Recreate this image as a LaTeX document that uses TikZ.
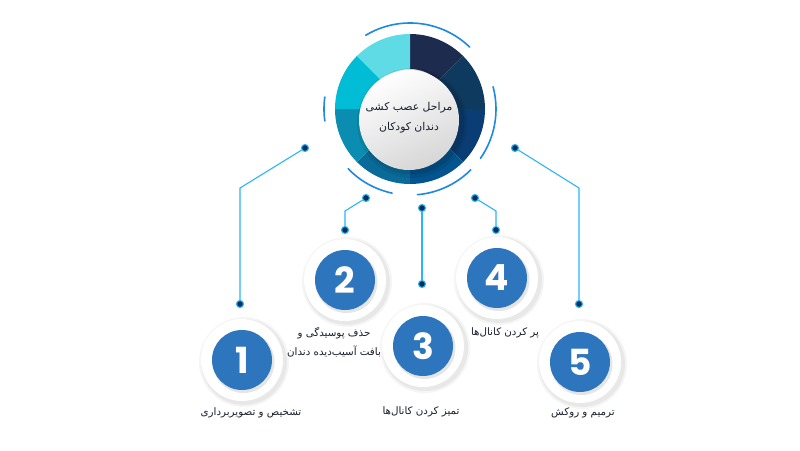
\documentclass[tikz,border=0pt]{standalone}
\usepackage{fontspec}
\newfontfamily\fa[Script=Arabic]{DejaVu Sans}
\newfontfamily\numfont{Poppins}
\TeXXeTstate=1
\definecolor{seg1}{HTML}{1D2B4F}
\definecolor{seg2}{HTML}{0F3A5F}
\definecolor{seg3}{HTML}{0A3D73}
\definecolor{seg4}{HTML}{04548F}
\definecolor{seg5}{HTML}{0A6B9A}
\definecolor{seg6}{HTML}{0A8DB0}
\definecolor{seg7}{HTML}{00BCD4}
\definecolor{seg8}{HTML}{5FDBE6}
\definecolor{arcblue}{HTML}{1E88E5}
\definecolor{linecyan}{HTML}{29B6F6}
\definecolor{dotnavy}{HTML}{0D2D5A}
\definecolor{numblue}{HTML}{2D76BE}
\definecolor{txt}{HTML}{1A1F2E}
\begin{document}
\begin{tikzpicture}[x=1pt,y=-1pt,
  halo/.style={circle, minimum size=82, inner sep=0, fill=white},
  numdisk/.style={circle, minimum size=60, inner sep=0, fill=numblue, text=white,
    font=\numfont\bfseries\fontsize{36}{36}\selectfont},
  dotnode/.style={circle, minimum size=7, inner sep=0, fill=dotnavy, draw=linecyan, line width=1.1},
  conn/.style={draw=linecyan, line width=1.1},
  lbl/.style={font=\fa\fontsize{10.3}{19}\selectfont, text=txt, align=center, inner sep=0},
  ring/.style={draw=arcblue, line width=1.6, line cap=round}]
\useasboundingbox (0,0) rectangle (800,450);
\fill[white] (0,0) rectangle (800,450);

% ---- central donut ----
\coordinate (ctr) at (410,109);
\begin{scope}[shift={(410,109)}, x=1pt, y=1pt]
  \foreach \a/\c [evaluate=\a as \b using \a-45] in {90/seg1,45/seg2,0/seg3,-45/seg4,-90/seg5,-135/seg6,-180/seg7,-225/seg8} {
    \fill[\c] (\a:75) arc[start angle=\a, end angle=\b, radius=75] -- (\b:40) arc[start angle=\b, end angle=\a, radius=40] -- cycle;
  }
  \draw[ring] (121:86) arc[start angle=121, end angle=46, radius=86];
  \draw[ring] (15:86) arc[start angle=15, end angle=-35, radius=86];
  \draw[ring] (172:86) arc[start angle=172, end angle=188, radius=86];
  \draw[ring] (224:86) arc[start angle=224, end angle=258, radius=86];
  \draw[ring] (275:86) arc[start angle=275, end angle=315, radius=86];
  % inner white disc with shadow
  \fill[black, opacity=0.07] (2,-14) circle (55);
  \fill[black, opacity=0.09] (2,-13) circle (52.5);
  \shade[top color=white, bottom color=black!16, shading angle=25] (-1,-11) circle (50);
\end{scope}
\node[font=\fa\fontsize{10.8}{20}\selectfont, text=txt, align=center] (title) at (409,118)
  {\beginR مراحل عصب کشی\endR\\\beginR دندان کودکان\endR};

% ---- numbered circles ----
\foreach \n/\x/\y in {1/242/360, 2/345/280, 3/423/346, 4/497/278, 5/580/362} {
  \fill[black, opacity=0.04] (\x+2,\y+2) circle (45);
  \fill[black, opacity=0.05] (\x+2,\y+2) circle (43);
  \node[halo] (h\n) at (\x,\y) {};
  \fill[black, opacity=0.10] (\x+1.5,\y+2) circle (31);
  \node[numdisk] (n\n) at (\x,\y) {\n};
}

% ---- connectors ----
\coordinate (k1) at (240,188);
\coordinate (k2) at (345,211);
\coordinate (k4) at (496,211);
\coordinate (k5) at (579,188);
\node[dotnode] (d1a) at (305,148) {};
\node[dotnode] (d1b) at (240,304) {};
\node[dotnode] (d2a) at (366,198) {};
\node[dotnode] (d2b) at (345,230) {};
\node[dotnode] (d3a) at (422,208) {};
\node[dotnode] (d3b) at (422,284) {};
\node[dotnode] (d4a) at (475,198) {};
\node[dotnode] (d4b) at (496,230) {};
\node[dotnode] (d5a) at (515,148) {};
\node[dotnode] (d5b) at (579,304) {};
\draw[conn] (d1a) -- (k1) -- (d1b);
\draw[conn] (d2a) -- (k2) -- (d2b);
\draw[conn] (d3a) -- (d3b);
\draw[conn] (d4a) -- (k4) -- (d4b);
\draw[conn] (d5a) -- (k5) -- (d5b);

% ---- labels ----
\node[lbl] (l1) at (251,413) {\beginR تشخیص و تصویربرداری\endR};
\node[lbl] (l2) at (334,342.5) {\beginR حذف پوسیدگی و\endR\\\beginR بافت آسیب^^^^200cدیده دندان\endR};
\node[lbl] (l3) at (421,412) {\beginR تمیز کردن کانال^^^^200cها\endR};
\node[lbl] (l4) at (505,333) {\beginR پر کردن کانال^^^^200cها\endR};
\node[lbl] (l5) at (583,413) {\beginR ترمیم و روکش\endR};
\end{tikzpicture}
\end{document}
